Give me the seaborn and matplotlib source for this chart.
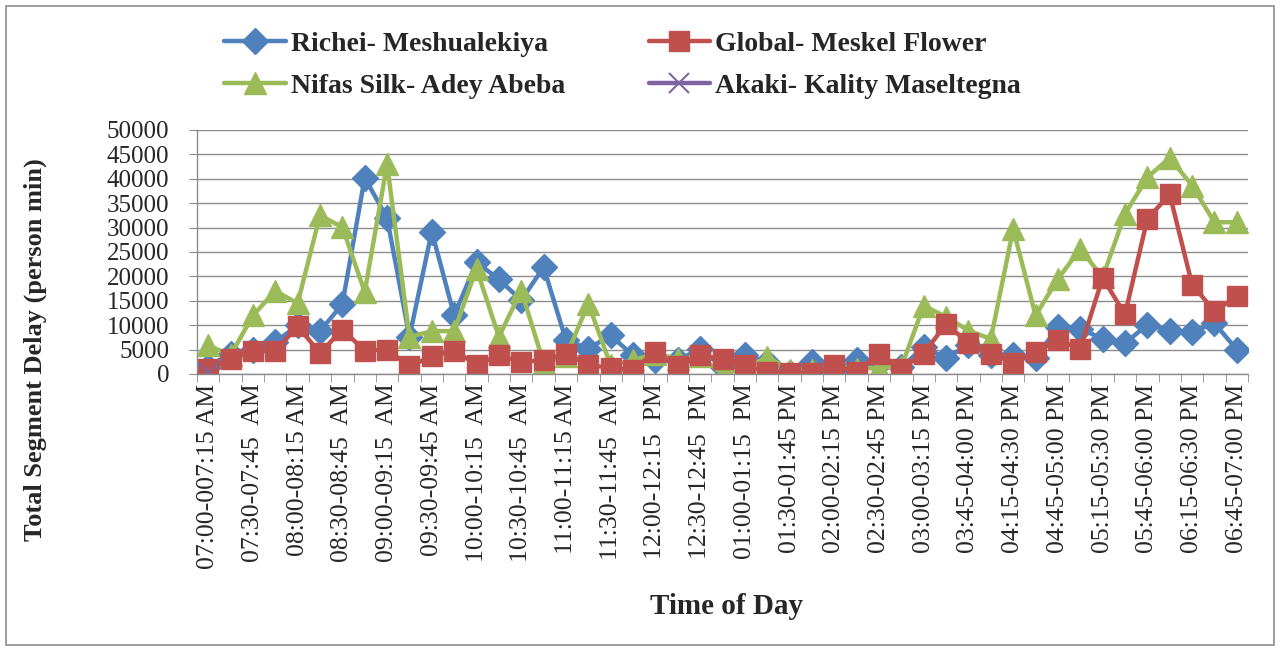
import numpy as np
import pandas as pd
import seaborn as sns
import matplotlib.pyplot as plt
from matplotlib.patches import Rectangle

# time slots (one skipped in the source data between 03:15 and 03:45 PM)
slots = [
    "07:00-007:15 AM", "07:15-07:30 AM", "07:30-07:45  AM", "07:45-08:00 AM",
    "08:00-08:15 AM", "08:15-08:30 AM", "08:30-08:45  AM", "08:45-09:00 AM",
    "09:00-09:15  AM", "09:15-09:30 AM", "09:30-09:45 AM", "09:45-10:00 AM",
    "10:00-10:15  AM", "10:15-10:30 AM", "10:30-10:45  AM", "10:45-11:00 AM",
    "11:00-11:15 AM", "11:15-11:30 AM", "11:30-11:45  AM", "11:45-12:00 AM",
    "12:00-12:15  PM", "12:15-12:30 PM", "12:30-12:45  PM", "12:45-01:00 PM",
    "01:00-01:15  PM", "01:15-01:30 PM", "01:30-01:45 PM", "01:45-02:00 PM",
    "02:00-02:15 PM", "02:15-02:30 PM", "02:30-02:45 PM", "02:45-03:00 PM",
    "03:00-03:15 PM", "03:15-03:30 PM", "03:45-04:00 PM", "04:00-04:15 PM",
    "04:15-04:30 PM", "04:30-04:45 PM", "04:45-05:00 PM", "05:00-05:15 PM",
    "05:15-05:30 PM", "05:30-05:45 PM", "05:45-06:00 PM", "06:00-06:15 PM",
    "06:15-06:30 PM", "06:30-06:45 PM", "06:45-07:00 PM",
]

richei = [1500, 4200, 5000, 6500, 10000, 8800, 14300, 40200, 32000, 7600,
          29200, 12000, 22900, 19400, 15100, 21900, 6900, 5200, 7900, 3800,
          2800, 2800, 5200, 1400, 3800, 2500, 200, 2400, 500, 2900,
          2000, 1400, 5500, 3300, 6000, 3800, 3800, 3300, 9600, 9300,
          7200, 6300, 10100, 8900, 8600, 10400, 5000]
global_ = [1100, 3000, 4800, 4700, 9800, 4300, 9100, 4800, 5000, 1600,
           3600, 4800, 1900, 3800, 2500, 2800, 4200, 1800, 1300, 900,
           4500, 1600, 3800, 3100, 1800, 400, 300, 200, 1800, 400,
           4200, 1100, 4200, 10300, 6300, 4200, 2300, 4500, 6900, 5200,
           19700, 12200, 31800, 36800, 18300, 12900, 15900]
nifas = [5900, 3800, 12000, 17000, 14500, 32500, 30100, 16800, 43000, 7600,
         8800, 8800, 21600, 7600, 17100, 2300, 3600, 14400, 1800, 2800,
         4200, 3100, 3600, 0, 1100, 3500, 900, 800, 1600, 1100,
         1300, 1500, 14000, 11700, 8900, 7200, 29700, 12000, 19500, 25600,
         19800, 32800, 40300, 44300, 38600, 31100, 31100]
akaki = [300] + [np.nan] * (len(slots) - 1)

series = [
    ("Richei- Meshualekiya", richei, "#4F81BD", "D", 13),
    ("Nifas Silk- Adey Abeba", nifas, "#9BBB59", "^", 16),
    ("Global- Meskel Flower", global_, "#C0504D", "s", 14),
    ("Akaki- Kality Maseltegna", akaki, "#8064A2", "x", 14),
]

sns.set_style("white")
plt.rcParams["font.family"] = ["Liberation Serif", "DejaVu Serif"]

fig = plt.figure(figsize=(12.81, 6.48), dpi=100)
ax = fig.add_axes([197 / 1281, 1 - 374 / 648, 1051 / 1281, 244 / 648])

x = np.arange(len(slots))
for name, vals, col, mk, ms in series:
    sns.lineplot(x=x, y=vals, ax=ax, color=col, marker=mk, markersize=ms,
                 markeredgecolor=col, markeredgewidth=1.5 if mk == "x" else 1,
                 linewidth=3.2, label=name)

ax.set_xlim(-0.5, len(slots) - 0.5)
ax.set_ylim(0, 50000)
ax.set_yticks(np.arange(0, 50001, 5000))
ax.yaxis.grid(True, color="#8c8c8c", linewidth=1)
ax.set_axisbelow(True)
ax.tick_params(axis="y", labelsize=18, length=6, color="#8c8c8c", left=True, pad=14)

ax.set_xticks(x[::2])
ax.set_xticklabels(slots[::2], rotation=90, fontsize=18.5)
ax.set_xticks(np.arange(-0.5, len(slots), 1), minor=True)
ax.tick_params(axis="x", which="major", length=0, pad=7)
ax.tick_params(axis="x", which="minor", length=6, color="#8c8c8c", bottom=True)

for s in ["top", "right"]:
    ax.spines[s].set_visible(False)
for s in ["left", "bottom"]:
    ax.spines[s].set_color("#8c8c8c")
    ax.spines[s].set_linewidth(1)

fig.text(35 / 1281, 1 - 350 / 648, "Total Segment Delay (person min)", fontsize=19,
         fontweight="bold", rotation=90, ha="center", va="center")
fig.text(726 / 1281, 1 - 606 / 648, "Time of Day", fontsize=21, fontweight="bold",
         ha="center", va="center")

ax.legend(loc="upper left", bbox_to_anchor=(205 / 1281, 1 - 12 / 648),
          bbox_transform=fig.transFigure, ncol=2, frameon=False,
          prop={"size": 20, "weight": "bold"}, handlelength=2.2,
          handletextpad=0.2, columnspacing=3.0, labelspacing=0.6,
          borderpad=0.2)

fig.patches.append(Rectangle((6 / 1281, 3 / 648), 1268 / 1281, 639 / 648,
                             transform=fig.transFigure, fill=False,
                             edgecolor="#8c8c8c", linewidth=1.2))

fig.savefig("out.png", dpi=100)
